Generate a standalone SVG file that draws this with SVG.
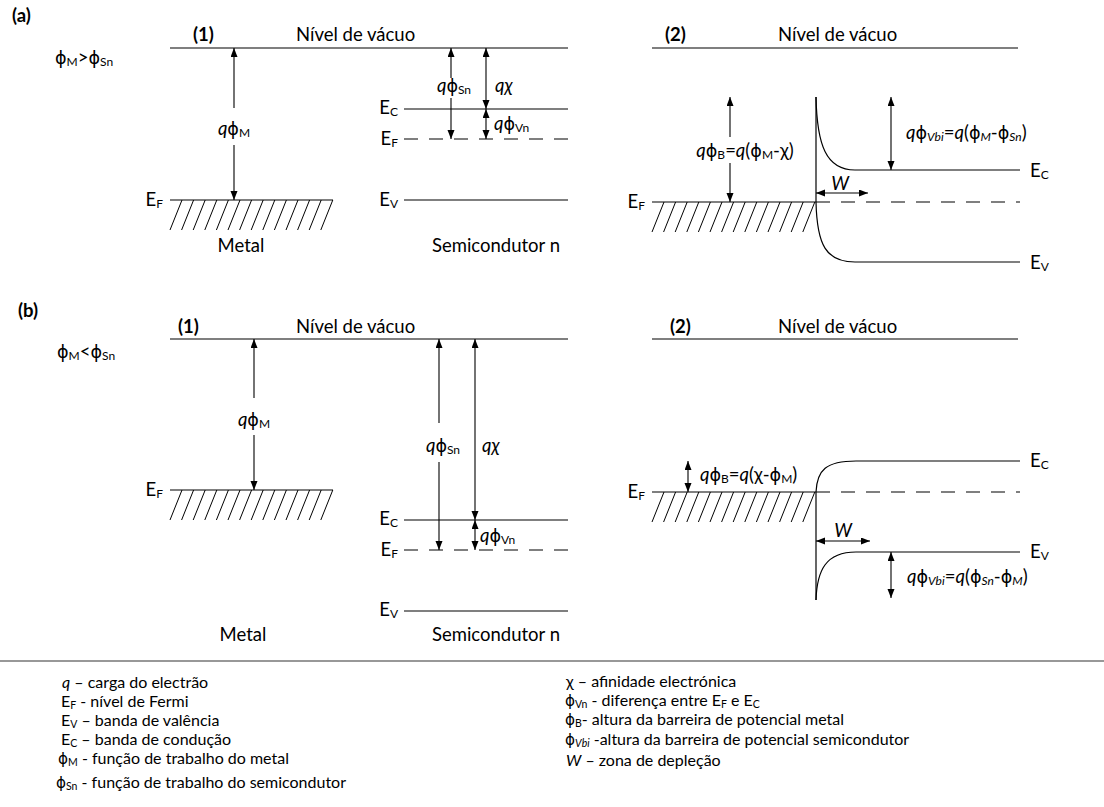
<svg xmlns="http://www.w3.org/2000/svg" xmlns:xlink="http://www.w3.org/1999/xlink" width="1104" height="807" viewBox="0 0 1104 807">
<style>
.t{font-family:Lato,"Open Sans","Liberation Sans",sans-serif;font-size:18.5px;fill:#000}
.lg{font-size:16px}
.b{font-weight:bold}
.i{font-style:italic}
.s{font-size:12px}
.ls{font-size:10.5px}
.p{font-family:"DejaVu Sans","Noto Sans",sans-serif;font-size:0.95em}
.ln{stroke:#000;stroke-width:1.2;fill:none}
.hl{stroke:#000;stroke-width:1;fill:none}
.dl{stroke:#000;stroke-width:1.2;fill:none;stroke-dasharray:14 11}
.ar{stroke:#000;stroke-width:1.1;fill:none;marker-end:url(#ah)}
.ar2{stroke:#000;stroke-width:1.1;fill:none;marker-start:url(#ah);marker-end:url(#ah)}
</style>
<defs>
<marker id="ah" markerUnits="userSpaceOnUse" markerWidth="10" markerHeight="8" refX="9" refY="3.5" orient="auto-start-reverse">
<path d="M0,0 L9,3.5 L0,7 z" fill="#000"/>
</marker>
<path id="hatch" class="hl" d="M0,30L12,0M11.6,30L23.6,0M23.2,30L35.2,0M34.8,30L46.8,0M46.4,30L58.4,0M58,30L70,0M69.6,30L81.6,0M81.2,30L93.2,0M92.8,30L104.8,0M104.4,30L116.4,0M116,30L128,0M127.6,30L139.6,0M139.2,30L151.2,0M150.8,30L162.8,0"/>
</defs>
<rect width="1104" height="807" fill="#fff"/>

<!-- ===== (a) ===== -->
<g id="panel-a-labels">
<text x="12" y="22" class="t b">(a)</text>
<text x="55" y="64" class="t"><tspan class="p">ϕ</tspan><tspan class="s" dy="2">M</tspan><tspan dy="-2">&gt;</tspan><tspan class="p">ϕ</tspan><tspan class="s" dy="2">Sn</tspan></text>
<text x="193" y="41" class="t b">(1)</text>
<text x="296" y="41" class="t">Nível de vácuo</text>
<text x="665" y="41" class="t b">(2)</text>
<text x="778" y="41" class="t">Nível de vácuo</text>
</g>

<g id="a1-vacuum">
<line class="ln" x1="170" y1="48" x2="568" y2="48"/>
</g>

<g id="a1-metal">
<line class="ln" x1="170" y1="200" x2="333" y2="200"/>
<use xlink:href="#hatch" x="170" y="200"/>
<text x="163" y="206" class="t" text-anchor="end">E<tspan class="s" dy="2">F</tspan></text>
<text x="241" y="252" class="t" text-anchor="middle">Metal</text>
</g>

<g id="a1-semiconductor">
<line class="ln" x1="404" y1="109" x2="568" y2="109"/>
<line class="dl" x1="404" y1="139" x2="568" y2="139"/>
<line class="ln" x1="404" y1="200" x2="568" y2="200"/>
<text x="398" y="114" class="t" text-anchor="end">E<tspan class="s" dy="2">C</tspan></text>
<text x="398" y="145" class="t" text-anchor="end">E<tspan class="s" dy="2">F</tspan></text>
<text x="398" y="206" class="t" text-anchor="end">E<tspan class="s" dy="2">V</tspan></text>
<text x="496" y="252" class="t" text-anchor="middle">Semicondutor n</text>
</g>

<g id="a2-junction">
<line class="ln" x1="652" y1="48" x2="1018" y2="48"/>
<line class="ln" x1="652" y1="202" x2="816" y2="202"/>
<use xlink:href="#hatch" x="652" y="202"/>
<line class="dl" x1="816" y1="202" x2="1020" y2="202"/>
<line class="ln" x1="816" y1="97" x2="816" y2="202"/>
<path class="ln" d="M816,97 C817,145 826,170 855,170 L1020,170"/>
<path class="ln" d="M816,202 C817,245 826,262 855,262 L1020,262"/>
<text x="645" y="208" class="t" text-anchor="end">E<tspan class="s" dy="2">F</tspan></text>
<text x="1030" y="177" class="t">E<tspan class="s" dy="2">C</tspan></text>
<text x="1030" y="269" class="t">E<tspan class="s" dy="2">V</tspan></text>
</g>

<!-- ===== (b) ===== -->
<g id="panel-b-labels">
<text x="18" y="317" class="t b">(b)</text>
<text x="57" y="358" class="t"><tspan class="p">ϕ</tspan><tspan class="s" dy="2">M</tspan><tspan dy="-2">&lt;</tspan><tspan class="p">ϕ</tspan><tspan class="s" dy="2">Sn</tspan></text>
<text x="178" y="333" class="t b">(1)</text>
<text x="296" y="333" class="t">Nível de vácuo</text>
<text x="670" y="333" class="t b">(2)</text>
<text x="778" y="333" class="t">Nível de vácuo</text>
</g>

<g id="b1-vacuum">
<line class="ln" x1="170" y1="339" x2="568" y2="339"/>
</g>

<g id="b1-metal">
<line class="ln" x1="170" y1="490" x2="333" y2="490"/>
<use xlink:href="#hatch" x="170" y="490"/>
<text x="163" y="496" class="t" text-anchor="end">E<tspan class="s" dy="2">F</tspan></text>
<text x="243" y="641" class="t" text-anchor="middle">Metal</text>
</g>

<g id="b1-semiconductor">
<line class="ln" x1="404" y1="520" x2="568" y2="520"/>
<line class="dl" x1="404" y1="550" x2="568" y2="550"/>
<line class="ln" x1="404" y1="611" x2="568" y2="611"/>
<text x="398" y="525" class="t" text-anchor="end">E<tspan class="s" dy="2">C</tspan></text>
<text x="398" y="556" class="t" text-anchor="end">E<tspan class="s" dy="2">F</tspan></text>
<text x="398" y="616" class="t" text-anchor="end">E<tspan class="s" dy="2">V</tspan></text>
<text x="496" y="641" class="t" text-anchor="middle">Semicondutor n</text>
</g>

<g id="b2-junction">
<line class="ln" x1="652" y1="339" x2="1018" y2="339"/>
<line class="ln" x1="652" y1="492" x2="816" y2="492"/>
<use xlink:href="#hatch" x="652" y="492"/>
<line class="dl" x1="816" y1="492" x2="1020" y2="492"/>
<line class="ln" x1="816" y1="492" x2="816" y2="600"/>
<path class="ln" d="M816,492 C817,470 826,461 856,461 L1020,461"/>
<path class="ln" d="M816,600 C817,570 826,552 856,552 L1020,552"/>
<text x="645" y="498" class="t" text-anchor="end">E<tspan class="s" dy="2">F</tspan></text>
<text x="1030" y="467" class="t">E<tspan class="s" dy="2">C</tspan></text>
<text x="1030" y="558" class="t">E<tspan class="s" dy="2">V</tspan></text>
</g>

<!-- ===== connectors (energy arrows) ===== -->
<g id="connectors">
<line class="ar" x1="234" y1="108" x2="234" y2="48"/>
<line class="ar" x1="234" y1="145" x2="234" y2="200"/>
<line class="ar" x1="451" y1="78" x2="451" y2="48"/>
<line class="ar" x1="451" y1="98" x2="451" y2="139"/>
<line class="ar2" x1="486" y1="48" x2="486" y2="109"/>
<line class="ar2" x1="486" y1="109" x2="486" y2="139"/>
<line class="ar" x1="730" y1="137" x2="730" y2="97"/>
<line class="ar" x1="730" y1="163" x2="730" y2="202"/>
<line class="ar2" x1="891" y1="97" x2="891" y2="170"/>
<line class="ar2" x1="816" y1="193" x2="868" y2="193"/>
<line class="ar" x1="254" y1="398" x2="254" y2="339"/>
<line class="ar" x1="254" y1="435" x2="254" y2="490"/>
<line class="ar" x1="439" y1="423" x2="439" y2="339"/>
<line class="ar" x1="439" y1="462" x2="439" y2="550"/>
<line class="ar2" x1="475" y1="339" x2="475" y2="520"/>
<line class="ar2" x1="475" y1="520" x2="475" y2="550"/>
<line class="ar2" x1="688" y1="461" x2="688" y2="492"/>
<line class="ar2" x1="816" y1="541" x2="870" y2="541"/>
<line class="ar2" x1="891" y1="552" x2="891" y2="598"/>
</g>

<g id="arrow-labels">
<text x="234" y="135" class="t" text-anchor="middle"><tspan class="i">q</tspan><tspan class="p">ϕ</tspan><tspan class="s" dy="2">M</tspan></text>
<text x="454" y="92" class="t" text-anchor="middle"><tspan class="i">q</tspan><tspan class="p">ϕ</tspan><tspan class="s" dy="2">Sn</tspan></text>
<text x="495" y="92" class="t"><tspan class="i">q</tspan><tspan class="i">χ</tspan></text>
<text x="494" y="130" class="t"><tspan class="i">q</tspan><tspan class="p">ϕ</tspan><tspan class="s" dy="2">Vn</tspan></text>
<text x="745" y="157" class="t" text-anchor="middle"><tspan class="i">q</tspan><tspan class="p">ϕ</tspan><tspan class="s" dy="2">B</tspan><tspan dy="-2">=</tspan><tspan class="i">q</tspan>(<tspan class="p">ϕ</tspan><tspan class="s" dy="2">M</tspan><tspan dy="-2">-χ)</tspan></text>
<text x="906" y="139" class="t"><tspan class="i">q</tspan><tspan class="p">ϕ</tspan><tspan class="s i" dy="2">Vbi</tspan><tspan dy="-2">=</tspan><tspan class="i">q</tspan>(<tspan class="p">ϕ</tspan><tspan class="s i" dy="2">M</tspan><tspan dy="-2">-</tspan><tspan class="p">ϕ</tspan><tspan class="s i" dy="2">Sn</tspan><tspan dy="-2">)</tspan></text>
<text x="840" y="190" class="t i" text-anchor="middle">W</text>
<text x="254" y="426" class="t" text-anchor="middle"><tspan class="i">q</tspan><tspan class="p">ϕ</tspan><tspan class="s" dy="2">M</tspan></text>
<text x="443" y="452" class="t" text-anchor="middle"><tspan class="i">q</tspan><tspan class="p">ϕ</tspan><tspan class="s" dy="2">Sn</tspan></text>
<text x="482" y="452" class="t"><tspan class="i">q</tspan><tspan class="i">χ</tspan></text>
<text x="480" y="542" class="t"><tspan class="i">q</tspan><tspan class="p">ϕ</tspan><tspan class="s" dy="2">Vn</tspan></text>
<text x="700" y="481" class="t"><tspan class="i">q</tspan><tspan class="p">ϕ</tspan><tspan class="s" dy="2">B</tspan><tspan dy="-2">=</tspan><tspan class="i">q</tspan>(χ-<tspan class="p">ϕ</tspan><tspan class="s" dy="2">M</tspan><tspan dy="-2">)</tspan></text>
<text x="843" y="537" class="t i" text-anchor="middle">W</text>
<text x="907" y="583" class="t"><tspan class="i">q</tspan><tspan class="p">ϕ</tspan><tspan class="s i" dy="2">Vbi</tspan><tspan dy="-2">=</tspan><tspan class="i">q</tspan>(<tspan class="p">ϕ</tspan><tspan class="s i" dy="2">Sn</tspan><tspan dy="-2">-</tspan><tspan class="p">ϕ</tspan><tspan class="s i" dy="2">M</tspan><tspan dy="-2">)</tspan></text>
</g>

<!-- ===== legend ===== -->
<g id="legend">
<line x1="0" y1="661" x2="1104" y2="661" stroke="#333" stroke-width="1.2"/>
<text x="62" y="688" class="t lg"><tspan class="i">q</tspan> – carga do electrão</text>
<text x="61" y="707" class="t lg">E<tspan class="ls" dy="2">F</tspan><tspan dy="-2"> - nível de Fermi</tspan></text>
<text x="61" y="726" class="t lg">E<tspan class="ls" dy="2">V</tspan><tspan dy="-2"> – banda de valência</tspan></text>
<text x="61" y="745" class="t lg">E<tspan class="ls" dy="2">C</tspan><tspan dy="-2"> – banda de condução</tspan></text>
<text x="58" y="764" class="t lg"><tspan class="p">ϕ</tspan><tspan class="ls" dy="2">M</tspan><tspan dy="-2"> - função de trabalho do metal</tspan></text>
<text x="56" y="788" class="t lg"><tspan class="p">ϕ</tspan><tspan class="ls" dy="2">Sn</tspan><tspan dy="-2"> - função de trabalho do semicondutor</tspan></text>
<text x="566" y="687" class="t lg">χ – afinidade electrónica</text>
<text x="565" y="706" class="t lg"><tspan class="p">ϕ</tspan><tspan class="ls" dy="2">Vn</tspan><tspan dy="-2"> - diferença entre E</tspan><tspan class="ls" dy="2">F</tspan><tspan dy="-2"> e E</tspan><tspan class="ls" dy="2">C</tspan></text>
<text x="565" y="725" class="t lg"><tspan class="p">ϕ</tspan><tspan class="ls" dy="2">B</tspan><tspan dy="-2">- altura da barreira de potencial metal</tspan></text>
<text x="565" y="745" class="t lg"><tspan class="p">ϕ</tspan><tspan class="ls i" dy="2">Vbi</tspan><tspan dy="-2"> -altura da barreira de potencial semicondutor</tspan></text>
<text x="566" y="766" class="t lg"><tspan class="i">W</tspan> – zona de depleção</text>
</g>
</svg>
